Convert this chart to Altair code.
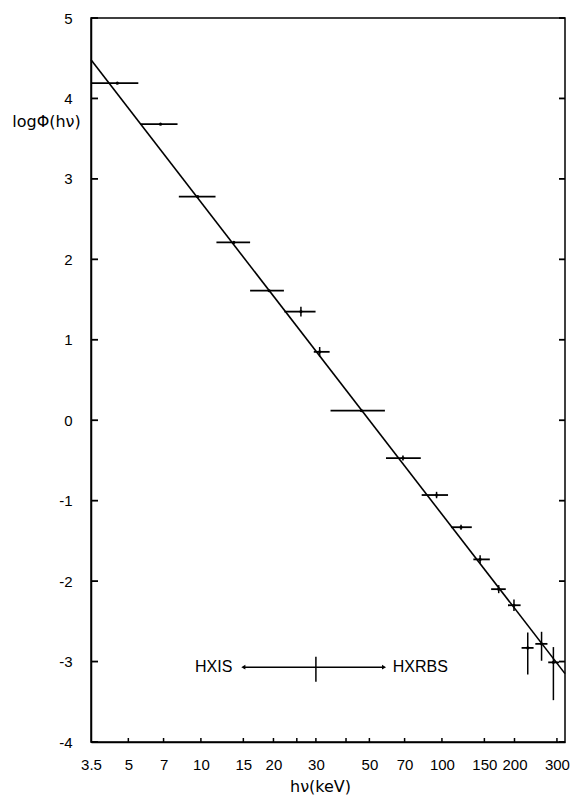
import altair as alt
import pandas as pd

# ---- data ----
e_lo = [3.5, 5.6, 8.1, 11.6, 16.0, 22.2, 29.4, 34.5, 58.6, 82.4, 109, 135, 160, 188, 214, 244, 276]
e_hi = [5.5, 8.0, 11.5, 16.0, 22.1, 29.9, 34.2, 58.0, 81.7, 106, 133, 158, 184, 212, 240, 274, 306]
e_mid = [4.5, 6.8, 9.7, 13.7, 19.2, 26.0, 31.1, 46.3, 68.9, 95, 120, 144, 172, 199, 227, 259, 290]
log_flux = [4.19, 3.68, 2.78, 2.21, 1.61, 1.35, 0.85, 0.12, -0.47, -0.93, -1.33, -1.73, -2.10, -2.30, -2.83, -2.78, -3.01]
flux_lo = [4.19, 3.68, 2.78, 2.21, 1.61, 1.29, 0.79, 0.12, -0.50, -0.97, -1.36, -1.78, -2.15, -2.37, -3.16, -2.99, -3.48]
flux_hi = [4.19, 3.68, 2.78, 2.21, 1.61, 1.41, 0.91, 0.12, -0.44, -0.89, -1.30, -1.68, -2.05, -2.23, -2.64, -2.63, -2.82]

fit_e = [3.5, 324]
fit_logflux = [4.48, -3.15]

x_label_vals = [3.5, 5, 7, 10, 15, 20, 30, 50, 70, 100, 150, 200, 300]
x_tick_vals = [5, 7, 10, 15, 20, 25, 30, 40, 50, 70, 100, 150, 200, 300]
y_vals = [-4, -3, -2, -1, 0, 1, 2, 3, 4, 5]

legend_arrow_e = [15.0, 57.5]
legend_arrow_y = -3.07
legend_div_e = 30.0
legend_div_y = [-2.94, -3.25]
legend_text = ["HXIS", "HXRBS"]
legend_text_e = [13.5, 62.5]

W, H = 474, 724
xs = alt.Scale(type="log", domain=[3.5, 324], nice=False, zero=False)
ys = alt.Scale(domain=[-4, 5], nice=False, zero=False)

pts = pd.DataFrame({"lo": e_lo, "hi": e_hi, "mid": e_mid, "v": log_flux,
                    "vlo": flux_lo, "vhi": flux_hi})

xaxis = alt.Axis(values=x_label_vals, format="~g", labelFont="Liberation Sans",
                 labelFontSize=15, labelColor="black", labelPadding=15,
                 ticks=False, tickSize=0, domain=True, domainColor="black",
                 domainWidth=1.5, grid=False, labelOverlap=False, labelFlush=False,
                 labelBound=False, title="hν(keV)", titleFont="DejaVu Sans",
                 titleFontSize=16, titleFontWeight="normal", titleColor="black",
                 titleX=229, titleY=44, titleBaseline="middle", titleAlign="center")
yaxis = alt.Axis(values=y_vals,
                 labelExpr="datum.value < 0 ? '-' + abs(datum.value) : '' + datum.value",
                 labelFont="Liberation Sans", labelFontSize=15, labelColor="black",
                 labelPadding=19, ticks=False, tickSize=0, domain=True,
                 domainColor="black", domainWidth=1.5, grid=False,
                 title="logΦ(hν)", titleAngle=0, titleX=-45, titleY=103,
                 titleAlign="center", titleBaseline="middle", titleFont="DejaVu Sans",
                 titleFontSize=16, titleFontWeight="normal", titleColor="black")


def X(f):
    return alt.X(f, scale=xs, axis=xaxis)


def Y(f):
    return alt.Y(f, scale=ys, axis=yaxis)


hbars = alt.Chart(pts).mark_rule(color="black", strokeWidth=1.8).encode(
    x=X("lo:Q"), x2="hi:Q", y=Y("v:Q"))

vbars = alt.Chart(pts).mark_rule(color="black", strokeWidth=1.5).encode(
    x=X("mid:Q"), y=Y("vlo:Q"), y2="vhi:Q")

dots = alt.Chart(pts).mark_circle(color="black", size=10, opacity=1).encode(
    x=X("mid:Q"), y=Y("v:Q"))

fit = alt.Chart(pd.DataFrame({"e": fit_e, "v": fit_logflux})).mark_line(
    color="black", strokeWidth=1.6).encode(x=X("e:Q"), y=Y("v:Q"))

xt = alt.Chart(pd.DataFrame({"e": x_tick_vals})).mark_rule(color="black", strokeWidth=1.5).encode(
    x=X("e:Q"), y=alt.value(H), y2=alt.value(H - 4))

ytl = alt.Chart(pd.DataFrame({"v": y_vals})).mark_rule(color="black", strokeWidth=1.8).encode(
    y=Y("v:Q"), x=alt.value(0), x2=alt.value(7))
ytr = alt.Chart(pd.DataFrame({"v": y_vals})).mark_rule(color="black", strokeWidth=1.8).encode(
    y=Y("v:Q"), x=alt.value(W - 6), x2=alt.value(W))

arrow = alt.Chart(pd.DataFrame({"a": [legend_arrow_e[0]], "b": [legend_arrow_e[1]],
                                "v": [legend_arrow_y]})).mark_rule(color="black", strokeWidth=1.5).encode(
    x=X("a:Q"), x2="b:Q", y=Y("v:Q"))
div = alt.Chart(pd.DataFrame({"e": [legend_div_e], "a": [legend_div_y[0]],
                              "b": [legend_div_y[1]]})).mark_rule(color="black", strokeWidth=1.5).encode(
    x=X("e:Q"), y=Y("a:Q"), y2="b:Q")
head_l = alt.Chart(pd.DataFrame({"e": [legend_arrow_e[0]], "v": [legend_arrow_y]})).mark_point(
    shape="triangle-left", filled=True, color="black", size=22, opacity=1).encode(
    x=X("e:Q"), y=Y("v:Q"))
head_r = alt.Chart(pd.DataFrame({"e": [legend_arrow_e[1]], "v": [legend_arrow_y]})).mark_point(
    shape="triangle-right", filled=True, color="black", size=22, opacity=1).encode(
    x=X("e:Q"), y=Y("v:Q"))
txt_l = alt.Chart(pd.DataFrame({"e": [legend_text_e[0]], "v": [legend_arrow_y], "t": [legend_text[0]]})).mark_text(
    align="right", baseline="middle", font="Liberation Sans", fontSize=16, color="black").encode(
    x=X("e:Q"), y=Y("v:Q"), text="t:N")
txt_r = alt.Chart(pd.DataFrame({"e": [legend_text_e[1]], "v": [legend_arrow_y], "t": [legend_text[1]]})).mark_text(
    align="left", baseline="middle", font="Liberation Sans", fontSize=16, color="black").encode(
    x=X("e:Q"), y=Y("v:Q"), text="t:N")

chart = alt.layer(hbars, vbars, dots, fit, xt, ytl, ytr, arrow, div, head_l, head_r,
                  txt_l, txt_r).properties(
    width=W, height=H,
    autosize=alt.AutoSizeParams(type="none"),
    padding={"left": 83, "top": 10, "right": 6, "bottom": 55},
    background="white",
).configure_view(stroke="black", strokeWidth=1.5)

chart.save("out.html", embed_options={"renderer": "svg", "actions": False})
